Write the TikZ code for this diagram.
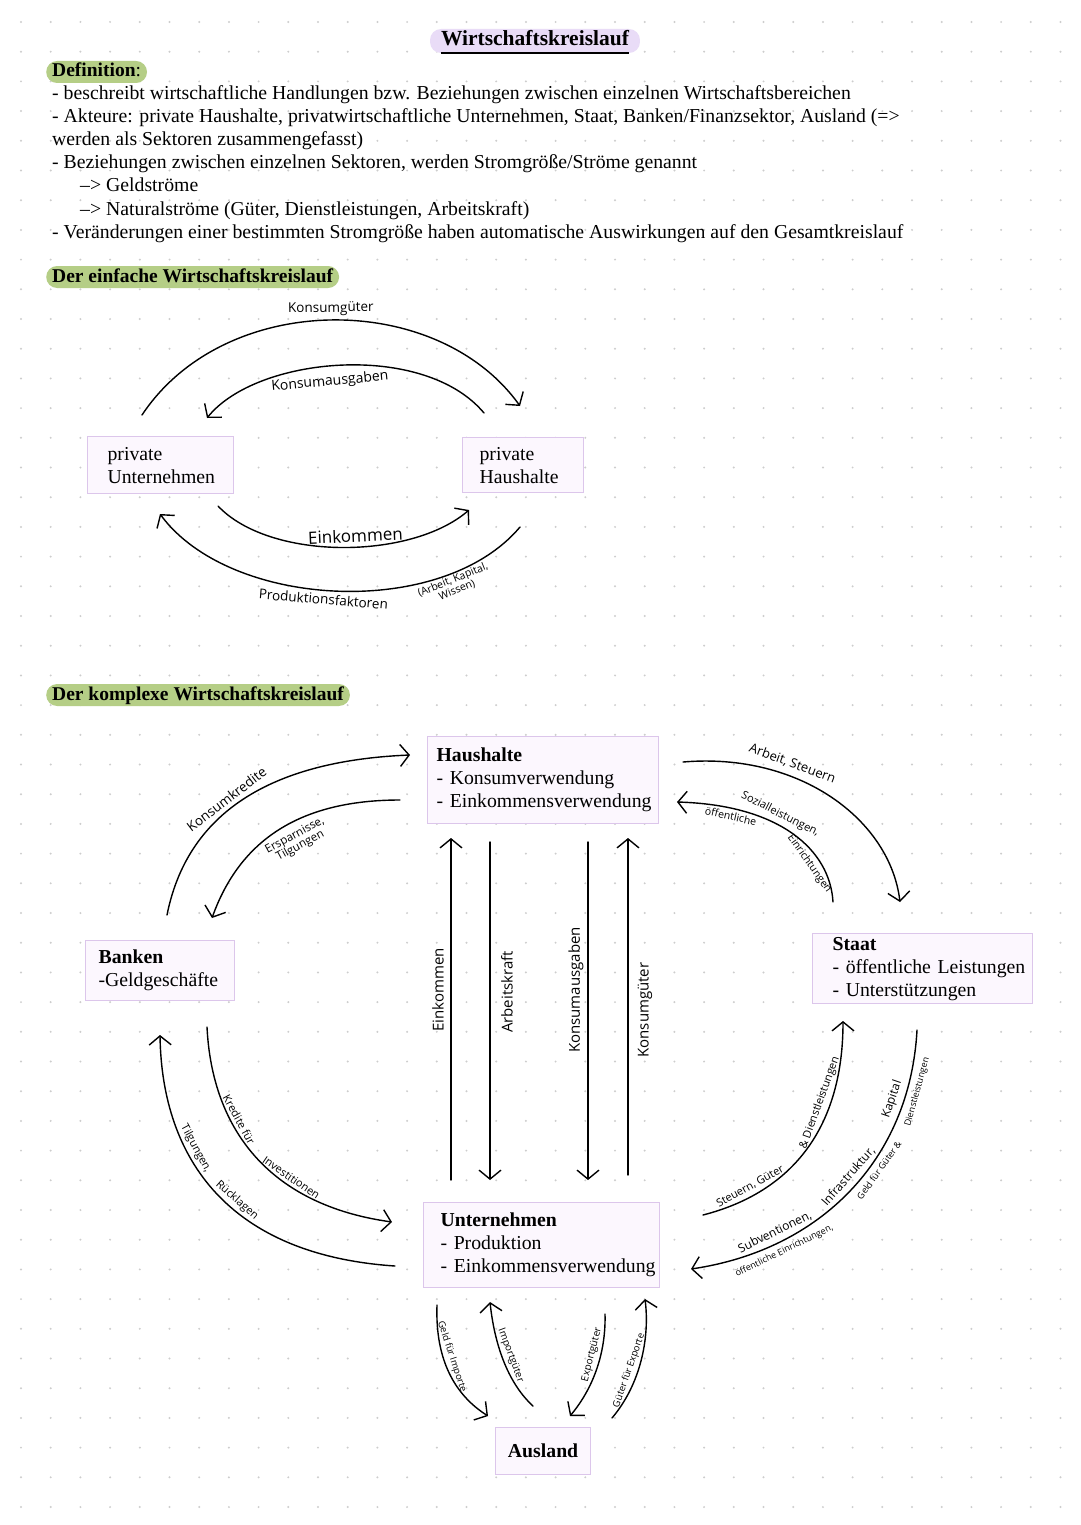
\documentclass[tikz,border=0pt]{standalone}
\usepackage{fontspec}
\setmainfont{Liberation Serif}
\newfontfamily\handschrift{Open Sans}
\usetikzlibrary{arrows.meta}

\definecolor{kastenrand}{RGB}{220,198,235}
\definecolor{kastenfill}{RGB}{252,247,254}
\definecolor{lila}{RGB}{233,220,247}
\definecolor{gruen}{RGB}{181,206,134}
\definecolor{punkt}{RGB}{205,205,205}

\tikzset{
  sektor/.style={draw=kastenrand, fill=kastenfill, line width=1.2pt, anchor=north west,
    align=left, inner xsep=1pt, inner ysep=0pt, font=\fontsize{19.75}{23}\selectfont},
  marker/.style={fill=gruen, rounded corners=11pt, inner xsep=6pt, inner ysep=2pt,
    text height=14pt, text depth=4pt, anchor=base west, font=\fontsize{19.5}{23}\selectfont\bfseries},
  zeile/.style={anchor=base west, inner sep=0pt, font=\fontsize{19.75}{23}\selectfont},
  strom/.style={line width=1.4pt, line cap=round},
  vtext/.style={font=\handschrift\fontsize{15}{15}\selectfont, rotate=90},
  lbl/.style={font=\handschrift\fontsize{#1}{#1}\selectfont, sloped, inner sep=1pt, align=center}
}

\begin{document}
\begin{tikzpicture}[x=1pt,y=-1pt,>={Straight Barb[length=9pt,width=22pt]}]
\fill[white] (0,0) rectangle (1080,1525);
\useasboundingbox (0,0) rectangle (1080,1525);
% Punktraster
\foreach \i in {0,...,36}
  \foreach \j in {0,...,51}
    \fill[punkt] (21+29.7*\i,22+29.7*\j) circle (1.1pt);

% Titel und Definition
\node[fill=lila, rounded corners=11pt, inner xsep=11pt, inner ysep=2pt, text height=15pt, text depth=5pt,
  anchor=base, font=\fontsize{21.5}{24}\selectfont\bfseries] (ttl) at (535,46) {Wirtschaftskreislauf};
\draw[line width=2.2pt] ([shift={(11pt,-7pt)}]ttl.base west) -- ([shift={(-11pt,-7pt)}]ttl.base east);
\node[marker] (defi) at (46,77) {Definition{\mdseries:}};
\node[zeile] (z1) at (52,100) {- beschreibt wirtschaftliche Handlungen bzw. Beziehungen zwischen einzelnen Wirtschaftsbereichen};
\node[zeile] (z2) at (52,123) {- Akteure: private Haushalte, privatwirtschaftliche Unternehmen, Staat, Banken/Finanzsektor, Ausland (=>};
\node[zeile] (z3) at (52,146) {werden als Sektoren zusammengefasst)};
\node[zeile] (z4) at (52,169) {- Beziehungen zwischen einzelnen Sektoren, werden Stromgröße/Ströme genannt};
\node[zeile] (z5) at (80,192) {–> Geldströme};
\node[zeile] (z6) at (80,215) {–> Naturalströme (Güter, Dienstleistungen, Arbeitskraft)};
\node[zeile] (z7) at (52,238) {- Veränderungen einer bestimmten Stromgröße haben automatische Auswirkungen auf den Gesamtkreislauf};

% einfacher Kreislauf
\node[marker] (einf) at (46,282) {Der einfache Wirtschaftskreislauf};
\node[sektor, minimum width=146pt, minimum height=57pt, text width=144pt] (pu) at (87,436)
  {\leftskip=19pt\relax private\\Unternehmen\par};
\node[sektor, minimum width=121pt, minimum height=55pt, text width=119pt] (ph) at (462,437)
  {\leftskip=16pt\relax private\\Haushalte\par};

\coordinate (kg1) at (142,415); \coordinate (kg2) at (520,406);
\coordinate (ka1) at (207,418); \coordinate (ka2) at (484,413);
\coordinate (ek1) at (218,506); \coordinate (ek2) at (469,510);
\coordinate (pf1) at (160,514); \coordinate (pf2) at (520,527);
\draw[strom,->] (kg1) .. controls +(83,-125) and +(-83,-116) .. (kg2)
  node[lbl=13.5, pos=.5, above=3pt] (tkg) {Konsumgüter};
\draw[strom,<-] (ka1) .. controls +(50,-62) and +(-60,-72) .. (ka2)
  node[lbl=14, pos=.46, below=7pt] (tka) {Konsumausgaben};
\draw[strom,->] (ek1) .. controls +(52,55) and +(-58,50) .. (ek2)
  node[lbl=17, pos=.55, above=3pt] (tek0) {Einkommen};
\draw[strom,<-] (pf1) .. controls +(70,95) and +(-78,93) .. (pf2)
  node[lbl=13.5, pos=.47, below=2pt] (tpf) {Produktionsfaktoren};
\node[font=\handschrift\fontsize{10.5}{11}\selectfont, rotate=22, align=center] (akw) at (455,585) {(Arbeit, Kapital,\\Wissen)};

% komplexer Kreislauf
\node[marker] (kompl) at (46,700) {Der komplexe Wirtschaftskreislauf};
\node[sektor, minimum width=231pt, minimum height=87pt, text width=229pt] (hh) at (427,736)
  {\leftskip=8pt\relax\textbf{Haushalte}\\- Konsumverwendung\\- Einkommensverwendung\par};
\node[sektor, minimum width=149pt, minimum height=60pt, text width=147pt] (bk) at (85,940)
  {\leftskip=12pt\relax\textbf{Banken}\\-Geldgeschäfte\par};
\node[sektor, minimum width=220pt, minimum height=70pt, text width=218pt] (st) at (812,933)
  {\leftskip=19pt\relax\textbf{Staat}\\- öffentliche Leistungen\\- Unterstützungen\par};
\node[sektor, minimum width=236pt, minimum height=85pt, text width=234pt] (un) at (423,1202)
  {\leftskip=16pt\relax\textbf{Unternehmen}\\- Produktion\\- Einkommensverwendung\par};
\node[sektor, minimum width=95pt, minimum height=47pt, text width=93pt, align=center] (al) at (495,1427)
  {\textbf{Ausland}};

% senkrechte Stroeme
\coordinate (ek3) at (451,1180); \coordinate (ek4) at (451,838);
\coordinate (ak1) at (490,842);  \coordinate (ak2) at (490,1180);
\coordinate (kx1) at (588,842);  \coordinate (kx2) at (588,1180);
\coordinate (kg3) at (628,1175); \coordinate (kg4) at (628,838);
\draw[strom,->] (ek3) -- (ek4);
\draw[strom,->] (ak1) -- (ak2);
\draw[strom,->] (kx1) -- (kx2);
\draw[strom,->] (kg3) -- (kg4);
\node[vtext] (tek) at (438,990) {Einkommen};
\node[vtext] (tak) at (507,992) {Arbeitskraft};
\node[vtext] (tkx) at (576,990) {Konsumausgaben};
\node[vtext] (tkg2) at (645,1010) {Konsumgüter};

% Banken
\coordinate (kk1) at (167,915); \coordinate (kk2) at (410,755);
\coordinate (es1) at (212,918); \coordinate (es2) at (400,800);
\coordinate (tr1) at (160,1035); \coordinate (tr2) at (395,1266);
\coordinate (ki1) at (207,1027); \coordinate (ki2) at (392,1222);
\draw[strom,->] (kk1) .. controls +(23,-115) and +(-120,5) .. (kk2)
  node[lbl=13.5, pos=.42, above=3pt] (tkk) {Konsumkredite};
\draw[strom,<-] (es1) .. controls +(28,-78) and +(-100,0) .. (es2)
  node[lbl=11.5, pos=.55, below=6pt] (tes) {Ersparnisse,\\Tilgungen};
\draw[strom,<-] (tr1) .. controls +(2,125) and +(-165,-11) .. (tr2)
  node[lbl=11, pos=.35, above=2pt] (ttr1) {Tilgungen,}
  node[lbl=11, pos=.56, above=2pt] (ttr2) {Rücklagen};
\draw[strom,->] (ki1) .. controls +(5,103) and +(-122,-17) .. (ki2)
  node[lbl=11, pos=.35, above=2pt] (tki1) {Kredite für}
  node[lbl=11, pos=.65, above=2pt] (tki2) {Investitionen};

% Staat
\coordinate (as1) at (683,762); \coordinate (as2) at (900,902);
\coordinate (sl1) at (677,802); \coordinate (sl2) at (833,902);
\coordinate (sg1) at (703,1215); \coordinate (sg2) at (843,1021);
\coordinate (sv1) at (691,1269); \coordinate (sv2) at (917,1030);
\draw[strom,->] (as1) .. controls +(117,-10) and +(-10,-82) .. (as2)
  node[lbl=13, pos=.33, above=5pt] (tas) {Arbeit, Steuern};
\draw[strom,<-] (sl1) .. controls +(103,3) and +(-3,-52) .. (sl2)
  node[lbl=11, pos=.4, above=3pt] (tsl) {Sozialleistungen,}
  node[lbl=10.5, pos=.2, below=2pt] (toe1) {öffentliche}
  node[lbl=10.5, pos=.7, below=3pt] (toe2) {Einrichtungen};
\draw[strom,->] (sg1) .. controls +(97,-25) and +(0,98) .. (sg2)
  node[lbl=11, pos=.2, above=3pt] (tsg1) {Steuern, Güter}
  node[lbl=11, pos=.68, above=3pt] (tsg2) {\& Dienstleistungen};
\draw[strom,<-] (sv1) .. controls +(129,-19) and +(-7,130) .. (sv2)
  node[lbl=12, pos=.25, above=4pt] (tsv1) {Subventionen,}
  node[lbl=12, pos=.53, above=4pt] (tsv2) {Infrastruktur,}
  node[lbl=12, pos=.8, above=4pt] (tsv3) {Kapital}
  node[lbl=9, pos=.25, below=4pt] (tsv4) {öffentliche Einrichtungen,}
  node[lbl=9, pos=.6, below=4pt] (tsv5) {Geld für Güter \&}
  node[lbl=9, pos=.84, below=4pt] (tsv6) {Dienstleistungen};

% Ausland
\coordinate (gi1) at (437,1305); \coordinate (gi2) at (488,1416);
\coordinate (ig1) at (490,1302); \coordinate (ig2) at (533,1406);
\coordinate (eg1) at (570,1416); \coordinate (eg2) at (605,1314);
\coordinate (ge1) at (612,1418); \coordinate (ge2) at (645,1299);
\draw[strom,->] (gi1) .. controls +(-2,55) and +(-33,-21) .. (gi2)
  node[lbl=9.5, pos=.38, above=2pt] (tgi) {Geld für Importe};
\draw[strom,<-] (ig1) .. controls +(5,47) and +(-23,-21) .. (ig2)
  node[lbl=10, pos=.45, above=2pt] (tig) {Importgüter};
\draw[strom,<-] (eg1) .. controls +(25,-30) and +(1,36) .. (eg2)
  node[lbl=10, pos=.6, above=2pt] (teg) {Exportgüter};
\draw[strom,->] (ge1) .. controls +(28,-33) and +(5,40) .. (ge2)
  node[lbl=9.5, pos=.4, above=2pt] (tge) {Güter für Exporte};
\end{tikzpicture}
\end{document}
